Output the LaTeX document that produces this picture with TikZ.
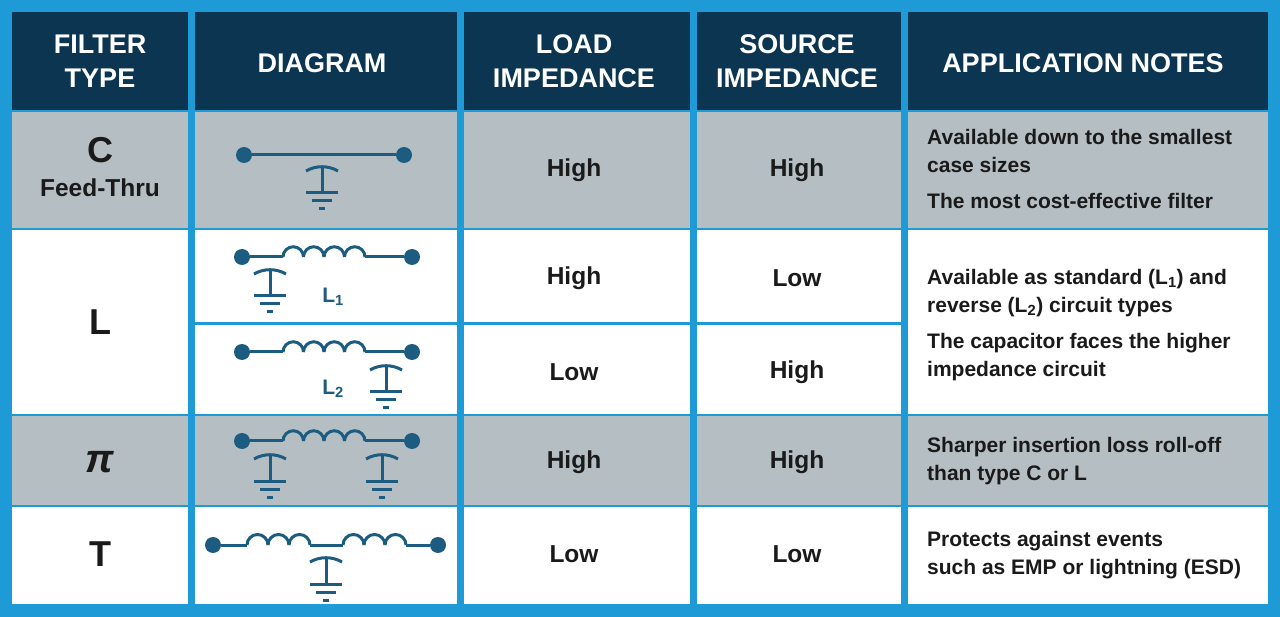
\documentclass[tikz,border=0pt]{standalone}
\usepackage{fontspec}
\setmainfont{Liberation Sans}
\definecolor{bgblue}{HTML}{1E9BD7}
\definecolor{navy}{HTML}{0B3550}
\definecolor{gray1}{HTML}{B5BFC3}
\definecolor{txt}{HTML}{1A1A1A}
\definecolor{wire}{HTML}{1B5C80}
\begin{document}
\begin{tikzpicture}[x=1pt,y=-1pt,
  hd/.style={text=white,font=\bfseries\fontsize{27}{34}\selectfont,align=center},
  bt/.style={text=txt,font=\bfseries\fontsize{24.5}{28}\selectfont,align=center},
  big/.style={text=txt,font=\bfseries\fontsize{36}{40}\selectfont},
  nt/.style={text=txt,font=\bfseries\fontsize{21}{28}\selectfont,align=left,anchor=west,inner sep=0pt},
  w/.style={draw=wire,line width=3pt},
  dot/.style={circle,fill=wire,inner sep=0pt,minimum size=16pt},
  lab/.style={text=wire,font=\bfseries\fontsize{21}{24}\selectfont},
  pics/cap/.style={code={
    \draw[w] (-16,8) arc[start angle=-120,end angle=-60,radius=32];
    \draw[w] (0,3.7) -- (0,30);
    \draw[w] (-16,30) -- (16,30);
    \draw[w] (-10,38) -- (10,38);
    \draw[w] (-3,46) -- (3,46);
  }}]
\fill[bgblue] (0,0) rectangle (1280,617);
\useasboundingbox (0,0) rectangle (1280,617);
% header
\foreach \a/\b in {12/188,195/457,464/690,697/901,908/1268}{\fill[navy] (\a,12) rectangle (\b,110);}
% rows
\foreach \a/\b in {12/188,195/457,464/690,697/901,908/1268}{
  \fill[gray1] (\a,112) rectangle (\b,228);
  \fill[white] (\a,230) rectangle (\b,414);
  \fill[gray1] (\a,416) rectangle (\b,505);
  \fill[white] (\a,507) rectangle (\b,604);}
\foreach \a/\b in {195/457,464/690,697/901}{\fill[bgblue] (\a,322) rectangle (\b,325);}
% header text
\node[hd] (h1) at (100,61) {FILTER\\TYPE};
\node[hd] (h2) at (322,63) {DIAGRAM};
\node[hd] (h3) at (574,61) {LOAD\\IMPEDANCE};
\node[hd] (h4) at (797,61) {SOURCE\\IMPEDANCE};
\node[hd] (h5) at (1083,63) {APPLICATION NOTES};
% type column
\node[big] (tc) at (100,150) {C};
\node[bt] (tf) at (100,188) {Feed-Thru};
\node[big] (tl) at (100,322) {L};
\node[big,font=\bfseries\itshape\fontsize{40}{42}\selectfont] (tp) at (100,462) {π};
\node[big] (tt) at (100,554) {T};
% impedances
\foreach \y/\l/\s [count=\i] in {170/High/High,278/High/Low,372/Low/High,462/High/High,554/Low/Low}{
  \node[bt] (ld\i) at (574,\y) {\l};
  \node[bt] (sr\i) at (797,\y) {\s};}
% notes
\node[nt] (n1) at (927,137) {Available down to the smallest};
\node[nt] (n2) at (927,165) {case sizes};
\node[nt] (n3) at (927,201) {The most cost-effective filter};
\node[nt] (n4) at (927,279) {Available as standard (L\textsubscript{1}) and};
\node[nt] (n5) at (927,307) {reverse (L\textsubscript{2}) circuit types};
\node[nt] (n6) at (927,343) {The capacitor faces the higher};
\node[nt] (n7) at (927,371) {impedance circuit};
\node[nt] (n8) at (927,447) {Sharper insertion loss roll-off};
\node[nt] (n9) at (927,475) {than type C or L};
\node[nt] (n10) at (927,541) {Protects against events};
\node[nt] (n11) at (927,569) {such as EMP or lightning (ESD)};
% C row
\node[dot] (ca) at (244,155) {}; \node[dot] (cb) at (404,155) {};
\draw[w] (ca) -- (cb);
\pic at (322,163) {cap};
% coil macro
\newcommand{\mycoil}[4]{% y, x0, n, width per hump
  \foreach \k in {1,...,#3}{
    \draw[w] ({#2+(\k-1)*#4},#1) arc[start angle=180,end angle=360,radius=#4/2];}}
% L1
\node[dot] (la) at (242,257) {}; \node[dot] (lb) at (412,257) {};
\draw[w] (la) -- (283,257); \draw[w] (365,257) -- (lb);
\mycoil{257}{283}{4}{20.5}
\pic at (270,266) {cap};
\node[lab] (l1) at (333,297) {L\textsubscript{1}};
% L2
\node[dot] (ma) at (242,352) {}; \node[dot] (mb) at (412,352) {};
\draw[w] (ma) -- (283,352); \draw[w] (365,352) -- (mb);
\mycoil{352}{283}{4}{20.5}
\pic at (386,362) {cap};
\node[lab] (l2) at (333,389) {L\textsubscript{2}};
% Pi
\node[dot] (pa) at (242,441) {}; \node[dot] (pb) at (412,441) {};
\draw[w] (pa) -- (283,441); \draw[w] (365,441) -- (pb);
\mycoil{441}{283}{4}{20.5}
\pic at (270,451) {cap};
\pic at (382,451) {cap};
% T
\node[dot] (ta) at (213,545) {}; \node[dot] (tb) at (438,545) {};
\draw[w] (ta) -- (247,545); \draw[w] (310,545) -- (343,545); \draw[w] (406,545) -- (tb);
\mycoil{545}{247}{3}{21}
\mycoil{545}{343}{3}{21}
\pic at (326,554) {cap};
\end{tikzpicture}
\end{document}
